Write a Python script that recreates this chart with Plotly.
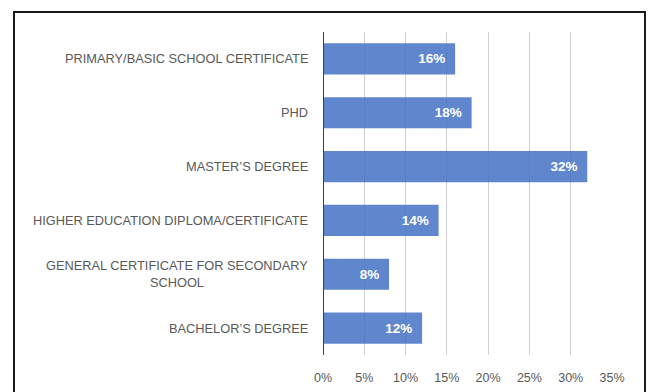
import plotly.graph_objects as go

# Education level distribution (bottom-to-top order as plotted)
categories = [
    "BACHELOR’S DEGREE",
    "GENERAL CERTIFICATE FOR SECONDARY<br>SCHOOL",
    "HIGHER EDUCATION DIPLOMA/CERTIFICATE",
    "MASTER’S DEGREE",
    "PHD",
    "PRIMARY/BASIC SCHOOL CERTIFICATE",
]
shares = [12, 8, 14, 32, 18, 16]
tick_values = [0, 5, 10, 15, 20, 25, 30, 35]
tick_labels = ["0%", "5%", "10%", "15%", "20%", "25%", "30%", "35%"]

FONT = "Liberation Sans, Arial, sans-serif"
GREY = "#595959"

W, H = 651, 392
ML, MR, MT, MB = 323, 39, 32, 37

fig = go.Figure(
    go.Bar(
        x=shares,
        y=categories,
        orientation="h",
        marker=dict(color="rgba(68,114,196,0.85)", line=dict(width=0)),
        text=[f"{v}%\u2002" for v in shares],
        textposition="inside",
        insidetextanchor="end",
        textfont=dict(family=FONT, size=13.5, color="white", weight="bold"),
        cliponaxis=False,
        hoverinfo="skip",
    )
)

# Category labels as annotations so wrapped lines stay centred
for cat in categories:
    fig.add_annotation(
        x=0, xref="paper", y=cat, yref="y",
        text=cat, showarrow=False,
        xanchor="right", xshift=-13, align="center",
        font=dict(family=FONT, size=12.8, color=GREY),
    )

# Outer chart frame
pw = W - ML - MR
ph = H - MT - MB
fig.add_shape(
    type="rect", xref="paper", yref="paper",
    x0=(14 - ML) / pw, x1=(645 - ML) / pw,
    y0=(H - MB - 400) / ph, y1=(H - MB - 12) / ph,
    line=dict(color="#1a1a1a", width=2), fillcolor="rgba(0,0,0,0)",
    layer="above",
)

fig.update_layout(
    width=W, height=H,
    margin=dict(l=ML, r=MR, t=MT, b=MB, autoexpand=False),
    paper_bgcolor="white", plot_bgcolor="white",
    bargap=0.42,
    showlegend=False,
    xaxis=dict(
        range=[0, 35],
        tickvals=tick_values, ticktext=tick_labels,
        showgrid=True, gridcolor="#d0d0d0", gridwidth=1,
        zeroline=False, showline=False,
        tickfont=dict(family=FONT, size=12.5, color=GREY),
        ticks="", ticklen=0, ticklabelstandoff=13,
        automargin=False,
    ),
    yaxis=dict(
        categoryorder="array", categoryarray=categories,
        showticklabels=False, showgrid=False, zeroline=False,
        showline=False, automargin=False,
    ),
)

# Dark value axis line at 0%
fig.add_shape(
    type="line", xref="x", yref="paper", x0=0, x1=0, y0=0, y1=1,
    line=dict(color="#404040", width=2), layer="above",
)

fig.write_html("out.html")
